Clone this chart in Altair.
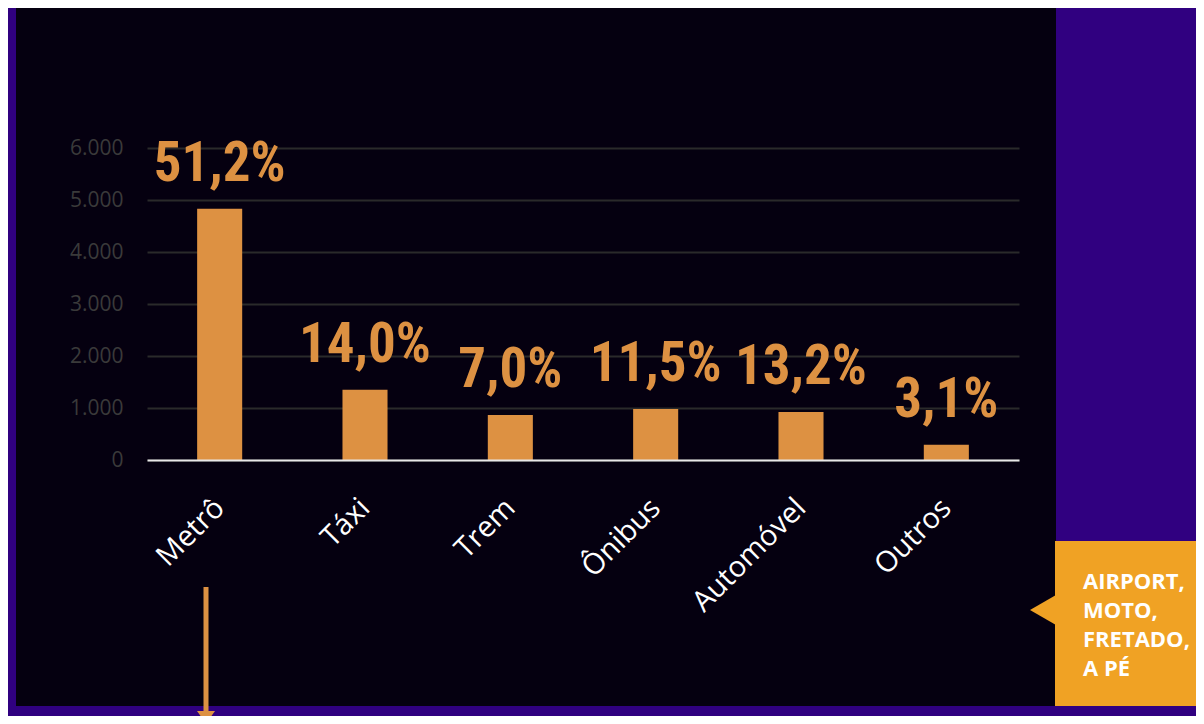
import altair as alt
import pandas as pd

categories = ["Metrô", "Táxi", "Trem", "Ônibus", "Automóvel", "Outros"]
values = [4830, 1350, 865, 980, 925, 295]
shares = ["51,2%", "14,0%", "7,0%", "11,5%", "13,2%", "3,1%"]
y_ticks = [0, 1000, 2000, 3000, 4000, 5000, 6000]
callout_lines = ["AIRPORT,", "MOTO,", "FRETADO,", "A PÉ"]

PURPLE = "#300080"
PANEL = "#050010"
BAR = "#dd9142"
CALLOUT = "#f0a224"

df = pd.DataFrame({"modo": categories, "valor": values, "pct": shares})
one = pd.DataFrame({"k": [0]})

W, H = 872, 312

x_enc = alt.X(
    "modo:N",
    sort=categories,
    title=None,
    scale=alt.Scale(paddingInner=0.69, paddingOuter=0.345),
    axis=alt.Axis(
        labelAngle=-45,
        labelAlign="right",
        labelBaseline="middle",
        labelFont="Open Sans",
        labelFontSize=29,
        labelColor="#ffffff",
        labelPadding=43,
        ticks=False,
        domainColor="#e8e8e8",
        domainWidth=2,
        zindex=1,
    ),
)
y_enc = alt.Y(
    "valor:Q",
    title=None,
    scale=alt.Scale(domain=[0, 6000], nice=False),
    axis=alt.Axis(
        values=y_ticks,
        labelExpr="replace(format(datum.value, ','), ',', '.')",
        labelFont="Open Sans",
        labelFontSize=21,
        labelColor="#3a3a3a",
        labelPadding=24,
        ticks=False,
        domain=False,
        gridColor="#2a2a2a",
        gridWidth=2,
    ),
)

base = alt.Chart(df)
bars = base.mark_bar(color=BAR).encode(x=x_enc, y=y_enc)
labels = base.mark_text(
    font="Roboto Condensed",
    fontWeight="bold",
    fontSize=55,
    color=BAR,
    baseline="alphabetic",
    dy=-28,
).encode(x=alt.X("modo:N", sort=categories), y="valor:Q", text="pct:N")

deco = alt.Chart(one)
left_strip = deco.mark_rect(color=PURPLE).encode(
    x=alt.value(-140), x2=alt.value(-131), y=alt.value(-141), y2=alt.value(569)
)
right_strip = deco.mark_rect(color=PURPLE).encode(
    x=alt.value(909), x2=alt.value(1050), y=alt.value(-141), y2=alt.value(569)
)
bottom_strip = deco.mark_rect(color=PURPLE).encode(
    x=alt.value(-140), x2=alt.value(1050), y=alt.value(558), y2=alt.value(569)
)
callout_box = deco.mark_rect(color=CALLOUT).encode(
    x=alt.value(908), x2=alt.value(1050), y=alt.value(393), y2=alt.value(558)
)
callout_tip = deco.mark_point(
    shape="M -1 0 L 0 -0.577 L 0 0.577 Z",
    filled=True,
    size=2704,
    color=CALLOUT,
    opacity=1,
    strokeWidth=0,
).encode(x=alt.value(909), y=alt.value(462))
callout_text = deco.mark_text(
    text=callout_lines,
    font="Open Sans",
    fontWeight="bold",
    fontSize=22,
    color="#ffffff",
    align="left",
    baseline="alphabetic",
    lineHeight=29,
).encode(x=alt.value(936), y=alt.value(441))
arrow_line = deco.mark_rule(color=BAR, strokeWidth=5).encode(
    x=alt.value(59), y=alt.value(439), y2=alt.value(564)
)
arrow_head = deco.mark_point(
    shape="M -1 0 L 1 0 L 0 1.4 Z",
    filled=True,
    size=324,
    color=BAR,
    opacity=1,
    strokeWidth=0,
).encode(x=alt.value(59), y=alt.value(563))

chart = (
    alt.layer(
        bars,
        labels,
        left_strip,
        right_strip,
        bottom_strip,
        callout_box,
        callout_tip,
        callout_text,
        arrow_line,
        arrow_head,
    )
    .properties(
        width=W,
        height=H,
        autosize=alt.AutoSizeParams(type="none"),
        padding={"left": 139, "top": 140, "right": 177, "bottom": 256},
        background=PANEL,
    )
    .configure_view(stroke=None)
)

chart.save("out.html", embed_options={"renderer": "svg", "actions": False})
